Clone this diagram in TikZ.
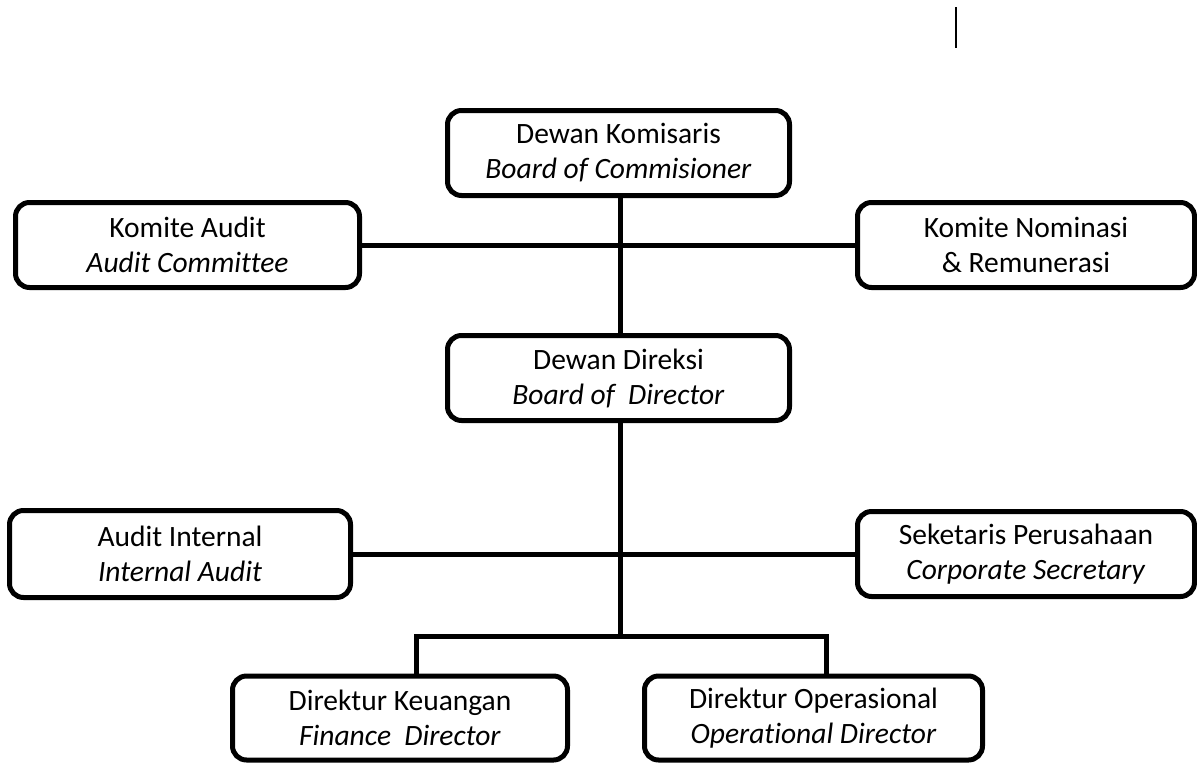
\documentclass[tikz,border=0pt]{standalone}
\usepackage{fontspec}
\setmainfont[Ligatures=NoCommon]{Carlito}
\begin{document}
\begin{tikzpicture}[x=1pt,y=-1pt,
  orgbox/.style={draw=black, line width=5pt, fill=white, rounded corners=14pt,
    align=center, inner sep=0pt, font=\fontsize{29.5pt}{35pt}\selectfont},
  link/.style={draw=black, line width=5pt}]
\useasboundingbox (0,0) rectangle (1197,764);
\node[orgbox, minimum width=342pt, minimum height=85pt] (boc) at (618.5,153) {Dewan Komisaris\\\textit{Board of Commisioner}};
\node[orgbox, minimum width=344pt, minimum height=85pt] (ka) at (187.5,245) {Komite Audit\\\textit{Audit Committee}};
\node[orgbox, minimum width=337pt, minimum height=85pt] (kn) at (1026,245) {Komite Nominasi\\\& Remunerasi};
\node[orgbox, minimum width=342pt, minimum height=85pt] (bod) at (618.5,378) {Dewan Direksi\\\textit{Board of~ Director}};
\node[orgbox, minimum width=341pt, minimum height=87pt] (ai) at (180,554) {Audit Internal\\\textit{Internal Audit}};
\node[orgbox, minimum width=337pt, minimum height=85pt] (cs) at (1026,554) {Seketaris Perusahaan\\\textit{Corporate Secretary}};
\node[orgbox, minimum width=335pt, minimum height=84pt] (fd) at (400,718) {Direktur Keuangan\\\textit{Finance~ Director}};
\node[orgbox, minimum width=338pt, minimum height=84pt] (od) at (813.5,718) {Direktur Operasional\\\textit{Operational Director}};
\coordinate (spine) at (620,0);
\coordinate (bus) at (620,636);
\coordinate (fdj) at (416,636);
\coordinate (odj) at (826,636);
\draw[link] (ka.east) -- (kn.west);
\draw[link] (ai.east) -- (cs.west);
\draw[link] (boc.south -| spine) -- (bod.north -| spine);
\draw[link] (bod.south -| spine) -- (bus);
\draw[link, line cap=rect] (fdj) -- (odj);
\draw[link] (fdj) -- (fd.north -| fdj);
\draw[link] (odj) -- (od.north -| odj);
\draw[line width=2.5pt] (956,7) -- (956,48);
\end{tikzpicture}
\end{document}
